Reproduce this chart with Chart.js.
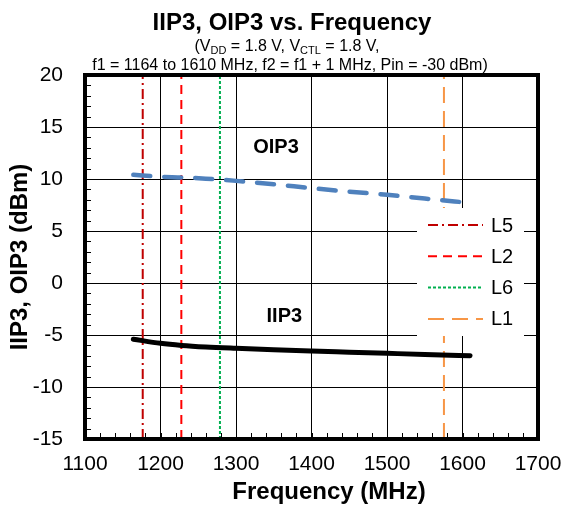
<!DOCTYPE html>
<html>
<head>
<meta charset="utf-8">
<script src="https://cdn.jsdelivr.net/npm/chart.js@4/dist/chart.umd.min.js"></script>
<style>
  html, body { margin: 0; padding: 0; background: #fff; }
  #wrap { width: 565px; height: 506px; }
</style>
</head>
<body>
<div id="wrap"><canvas id="ip3Chart" width="565" height="506"></canvas></div>
<script>
const FONT = "'Liberation Sans', Arial, sans-serif";

// measured curves
const freqMHz = [1164, 1200, 1228, 1260, 1300, 1350, 1400, 1450, 1500, 1550, 1610];
const oip3 = [10.4, 10.22, 10.15, 10.03, 9.82, 9.5, 9.12, 8.78, 8.48, 8.12, 7.7];
const iip3 = [-5.4, -5.8, -6.0, -6.15, -6.28, -6.42, -6.54, -6.65, -6.76, -6.87, -7.0];

// GNSS band markers
const bandNames = ['L5', 'L2', 'L6', 'L1'];
const bandFreqs = [1176.45, 1227.6, 1278.75, 1575.42];
const bandColors = ['#C00000', '#FF0000', '#00B050', '#F79646'];
const bandDashes = [[10, 4, 2, 4], [9, 6], [3, 2], [16, 8]];

const xTicks = [1100, 1200, 1300, 1400, 1500, 1600, 1700];
const yTicks = [-15, -10, -5, 0, 5, 10, 15, 20];

const toPoints = (xs, ys) => xs.map((x, i) => ({ x: x, y: ys[i] }));

const datasets = [
  {
    label: 'OIP3',
    data: toPoints(freqMHz, oip3),
    borderColor: '#4F81BD',
    borderWidth: 4.5,
    borderDash: [17, 14],
    borderCapStyle: 'round',
    cubicInterpolationMode: 'monotone',
    pointRadius: 0
  },
  {
    label: 'IIP3',
    data: toPoints(freqMHz, iip3),
    borderColor: '#000000',
    borderWidth: 5,
    borderCapStyle: 'round',
    cubicInterpolationMode: 'monotone',
    pointRadius: 0
  }
];

bandNames.forEach((name, i) => {
  datasets.push({
    label: name,
    isBand: true,
    data: [{ x: bandFreqs[i], y: yTicks[0] }, { x: bandFreqs[i], y: yTicks[yTicks.length - 1] }],
    borderColor: bandColors[i],
    borderWidth: 2,
    borderDash: bandDashes[i],
    pointRadius: 0
  });
});

// plot frame, inward minor ticks
const framePlugin = {
  id: 'frame',
  beforeDatasetsDraw(chart) {
    const { ctx, chartArea: a, scales } = chart;
    ctx.save();
    ctx.strokeStyle = '#000';
    ctx.lineWidth = 1;
    ctx.beginPath();
    for (let v = yTicks[0]; v <= yTicks[yTicks.length - 1]; v += 1) {
      const y = Math.round(scales.y.getPixelForValue(v)) + 0.5;
      ctx.moveTo(a.left, y);
      ctx.lineTo(a.left + 6, y);
    }
    for (let v = xTicks[0]; v <= xTicks[xTicks.length - 1]; v += 20) {
      const x = Math.round(scales.x.getPixelForValue(v)) + 0.5;
      ctx.moveTo(x, a.bottom);
      ctx.lineTo(x, a.bottom - 6);
    }
    ctx.stroke();
    ctx.restore();
  },
  afterDatasetsDraw(chart) {
    const { ctx, chartArea: a } = chart;
    ctx.save();
    ctx.strokeStyle = '#000';
    ctx.lineWidth = 4;
    ctx.strokeRect(a.left, a.top, a.right - a.left, a.bottom - a.top);
    ctx.restore();
  }
};

// series names written in the plot
const seriesTagPlugin = {
  id: 'seriesTags',
  afterDatasetsDraw(chart) {
    const { ctx, scales } = chart;
    const tags = [['OIP3', 1353, 13], ['IIP3', 1364, -3.2]];
    ctx.save();
    ctx.fillStyle = '#000';
    ctx.font = 'bold 20px ' + FONT;
    ctx.textAlign = 'center';
    ctx.textBaseline = 'middle';
    tags.forEach(t => ctx.fillText(t[0], scales.x.getPixelForValue(t[1]), scales.y.getPixelForValue(t[2])));
    ctx.restore();
  }
};

// legend box inside the plot
const bandLegendPlugin = {
  id: 'bandLegend',
  afterDraw(chart) {
    const { ctx } = chart;
    const box = { x: 417, y: 208, w: 107, h: 128 };
    ctx.save();
    ctx.fillStyle = '#fff';
    ctx.fillRect(box.x, box.y, box.w, box.h);
    ctx.font = '20px ' + FONT;
    ctx.textBaseline = 'middle';
    ctx.textAlign = 'left';
    chart.data.datasets.filter(d => d.isBand).forEach((d, i) => {
      const y = 225 + i * 31.3;
      ctx.strokeStyle = d.borderColor;
      ctx.lineWidth = d.borderWidth;
      ctx.setLineDash(d.borderDash);
      ctx.beginPath();
      ctx.moveTo(428, y);
      ctx.lineTo(483, y);
      ctx.stroke();
      ctx.setLineDash([]);
      ctx.fillStyle = '#000';
      ctx.fillText(d.label, 491, y + 1);
    });
    ctx.restore();
  }
};

// title block with subscripts, and x axis title
const headerPlugin = {
  id: 'header',
  afterDraw(chart) {
    const { ctx } = chart;
    ctx.save();
    ctx.fillStyle = '#000';
    ctx.textBaseline = 'alphabetic';
    ctx.textAlign = 'left';

    ctx.font = 'bold 24px ' + FONT;
    const t = 'IIP3, OIP3 vs. Frequency';
    ctx.fillText(t, 292 - ctx.measureText(t).width / 2, 30);

    const parts = [
      ['(V', false], ['DD', true], [' = 1.8 V, V', false], ['CTL', true], [' = 1.8 V,', false]
    ];
    const mainF = '16px ' + FONT, subF = '11px ' + FONT;
    let w = 0;
    parts.forEach(p => { ctx.font = p[1] ? subF : mainF; w += ctx.measureText(p[0]).width; });
    let x = 287 - w / 2;
    parts.forEach(p => {
      ctx.font = p[1] ? subF : mainF;
      ctx.fillText(p[0], x, p[1] ? 54 : 51);
      x += ctx.measureText(p[0]).width;
    });

    ctx.font = mainF;
    const l2 = 'f1 = 1164 to 1610 MHz, f2 = f1 + 1 MHz, Pin = -30 dBm)';
    ctx.fillText(l2, 290 - ctx.measureText(l2).width / 2, 70);

    ctx.font = 'bold 24px ' + FONT;
    ctx.textAlign = 'center';
    ctx.textBaseline = 'middle';
    ctx.fillText('Frequency (MHz)', 329, 492);
    ctx.restore();
  }
};

new Chart(document.getElementById('ip3Chart'), {
  type: 'line',
  data: { datasets: datasets },
  plugins: [framePlugin, seriesTagPlugin, bandLegendPlugin, headerPlugin],
  options: {
    responsive: false,
    animation: false,
    layout: { padding: { top: 75, right: 27, left: 0, bottom: 0 } },
    plugins: {
      legend: { display: false },
      title: { display: false },
      tooltip: { enabled: false }
    },
    scales: {
      x: {
        type: 'linear',
        min: xTicks[0],
        max: xTicks[xTicks.length - 1],
        afterBuildTicks: s => { s.ticks = xTicks.map(v => ({ value: v })); },
        afterFit: s => { s.height = 67; s.paddingLeft = 0; s.paddingRight = 0; },
        ticks: { color: '#000', font: { family: FONT, size: 21 }, padding: 13, maxRotation: 0, callback: v => String(v) },
        grid: { color: '#000', lineWidth: 1, drawTicks: false },
        border: { display: false }
      },
      y: {
        min: yTicks[0],
        max: yTicks[yTicks.length - 1],
        afterBuildTicks: s => { s.ticks = yTicks.map(v => ({ value: v })); },
        afterFit: s => { s.width = 85; s.paddingTop = 0; s.paddingBottom = 0; },
        ticks: { color: '#000', font: { family: FONT, size: 21 }, padding: 22, callback: v => String(v) },
        grid: { color: '#000', lineWidth: 1, drawTicks: false },
        border: { display: false },
        title: {
          display: true,
          text: 'IIP3, OIP3 (dBm)',
          color: '#000',
          font: { family: FONT, size: 24, weight: 'bold' },
          padding: { top: 6, bottom: 0 }
        }
      }
    }
  }
});
</script>
</body>
</html>
